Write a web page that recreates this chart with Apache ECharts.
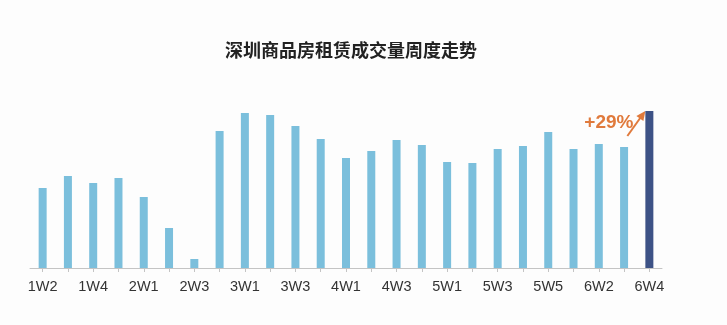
<!DOCTYPE html>
<html>
<head>
<meta charset="utf-8">
<script src="https://cdn.jsdelivr.net/npm/echarts@6/dist/echarts.min.js"></script>
<style>
html,body{margin:0;padding:0;background:#fdfdfd;}
#c{width:727px;height:325px;}
</style>
</head>
<body>
<div id="c"></div>
<script>
const titleText = '深圳商品房租赁成交量周度走势';
const categories = ['1W2','1W3','1W4','1W5','2W1','2W2','2W3','2W4','3W1','3W2','3W3','3W4','4W1','4W2','4W3','4W4','5W1','5W2','5W3','5W4','5W5','6W1','6W2','6W3','6W4'];
const volumes = [80,92,85,90,71,40,9,137,155,153,142,129,110,117,128,123,106,105,119,122,136,119,124,121,157];
const changeLabel = '+29%';

const chart = echarts.init(document.getElementById('c'), null, {renderer:'canvas'});
const lastIdx = volumes.length - 1;
chart.setOption({
  backgroundColor: '#fdfdfd',
  animation: false,
  title: {
    text: titleText,
    left: 346, top: 36, textAlign: 'center',
    textStyle: {fontSize: 18, fontWeight: 'bold', color: '#222', fontFamily: 'Noto Sans CJK SC'}
  },
  grid: {left: 30, right: 65, top: 68, bottom: 57},
  xAxis: {
    type: 'category',
    data: categories,
    boundaryGap: true,
    axisLine: {lineStyle: {color: '#c4c4c4', width: 1}},
    axisTick: {show: true, alignWithLabel: true, length: 4, interval: 0, lineStyle: {color: '#c4c4c4'}},
    axisLabel: {interval: 1, color: '#333', fontSize: 14.5, margin: 11, fontFamily: 'Liberation Sans'}
  },
  yAxis: {type: 'value', min: 0, max: 200, show: false, splitLine: {show: false}},
  series: [{
    type: 'bar',
    barWidth: 8,
    data: volumes.map((v, i) => i === lastIdx ? {value: v, itemStyle: {color: '#3d5286'}} : v),
    itemStyle: {color: '#7bbfdc'}
  }]
});

const p = chart.convertToPixel({seriesIndex: 0}, [lastIdx, volumes[lastIdx]]);
chart.setOption({
  graphic: [
    {type: 'text', left: p[0] - 65, top: p[1] + 2,
     style: {text: changeLabel, fill: '#e07a3c', font: 'bold 19px "Liberation Sans"'}},
    {type: 'line', shape: {x1: p[0] - 22, y1: p[1] + 25, x2: p[0] - 7, y2: p[1] + 4},
     style: {stroke: '#e07a3c', lineWidth: 2}},
    {type: 'polygon', shape: {points: [[p[0] - 4, p[1] + 0], [p[0] - 13, p[1] + 5], [p[0] - 6, p[1] + 10]]},
     style: {fill: '#e07a3c'}}
  ]
});
</script>
</body>
</html>
